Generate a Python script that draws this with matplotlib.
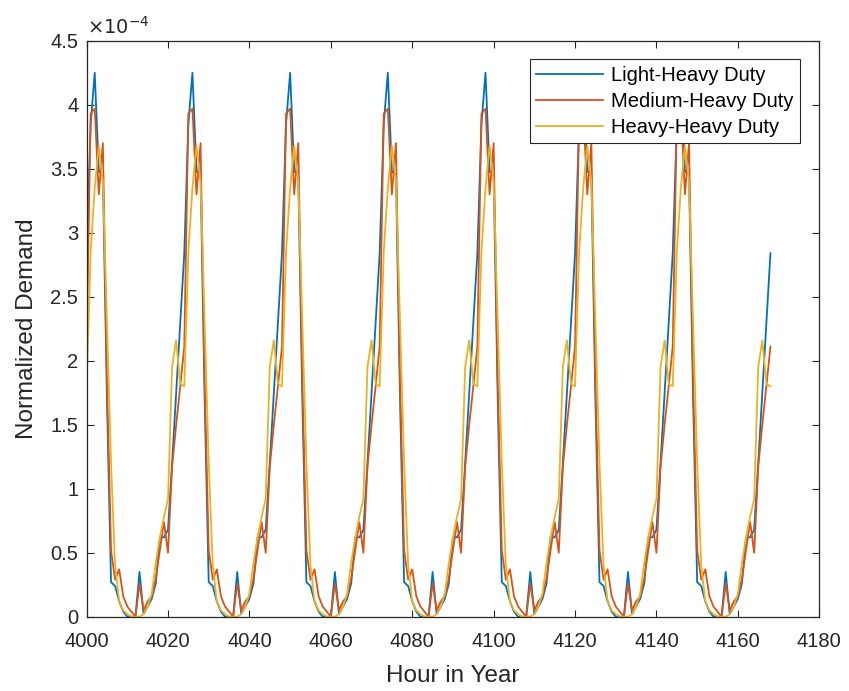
import matplotlib.pyplot as plt
import numpy as np

# Normalized demand in units of 1e-4, one value per hour of a day (hour 0..23)
light_heavy_day = [2.84, 3.85, 4.25, 3.48, 3.45, 1.70, 0.27, 0.24, 0.12, 0.04,
                   0.00, 0.00, 0.00, 0.35, 0.02, 0.08, 0.14, 0.26, 0.62, 0.62,
                   0.68, 1.20, 1.75, 2.30]
medium_heavy_day = [2.11, 3.93, 3.97, 3.30, 3.70, 1.85, 0.52, 0.29, 0.37, 0.16,
                    0.08, 0.04, 0.00, 0.26, 0.05, 0.12, 0.16, 0.30, 0.52, 0.74,
                    0.50, 1.17, 1.50, 1.80]
heavy_heavy_day = [1.80, 2.85, 3.35, 3.68, 3.40, 2.30, 1.20, 0.40, 0.12, 0.05,
                   0.02, 0.00, 0.00, 0.00, 0.02, 0.08, 0.18, 0.42, 0.62, 0.78,
                   0.92, 1.95, 2.16, 1.82]
start_hour = 4000
n_days = 7
series_names = ['Light-Heavy Duty', 'Medium-Heavy Duty', 'Heavy-Heavy Duty']
colors = ['#0072BD', '#D95319', '#EDB120']


def week(day):
    # one week of hourly values, ending on the first hour of the next day
    vals = list(day) * n_days + [day[0]]
    return np.array(vals)


hours = np.arange(start_hour, start_hour + 24 * n_days + 1)

plt.rcParams['font.family'] = ['Liberation Sans', 'DejaVu Sans']
fig = plt.figure(figsize=(8.49, 6.91), dpi=100)
ax = fig.add_axes([0.102, 0.1075, 0.863, 0.8335])

for day, name, c in zip([light_heavy_day, medium_heavy_day, heavy_heavy_day],
                        series_names, colors):
    ax.plot(hours, week(day), color=c, linewidth=1.3, label=name)

ax.set_xlim(4000, 4180)
ax.set_ylim(0, 4.5)
ax.set_xticks(np.arange(4000, 4181, 20))
yt = np.arange(0, 4.51, 0.5)
ax.set_yticks(yt)
ax.set_yticklabels([f'{v:g}' for v in yt])

axis_color = '#262626'
for s in ax.spines.values():
    s.set_color(axis_color)
    s.set_linewidth(0.9)
ax.tick_params(direction='in', top=True, right=True, length=5, width=0.8,
               color=axis_color, labelcolor=axis_color, labelsize=14.5)
ax.tick_params(axis='x', pad=11)
ax.tick_params(axis='y', pad=6)

ax.set_xlabel('Hour in Year', fontsize=17.5, color=axis_color, labelpad=10)
ax.set_ylabel('Normalized Demand', fontsize=17.5, color=axis_color, labelpad=9)
ax.text(0.0, 1.005, r'$\times10^{-4}$', transform=ax.transAxes, fontsize=14,
        color=axis_color, ha='left', va='bottom')

leg = ax.legend(loc='upper right', bbox_to_anchor=(800 / 849, 1 - 59 / 691),
                bbox_transform=fig.transFigure, fontsize=14.5, fancybox=False,
                edgecolor=axis_color, framealpha=1, handlelength=3.3,
                borderaxespad=0, labelspacing=0.35, handletextpad=0.4,
                borderpad=0.33)
leg.get_frame().set_linewidth(0.8)

fig.savefig('out.png', dpi=100)
